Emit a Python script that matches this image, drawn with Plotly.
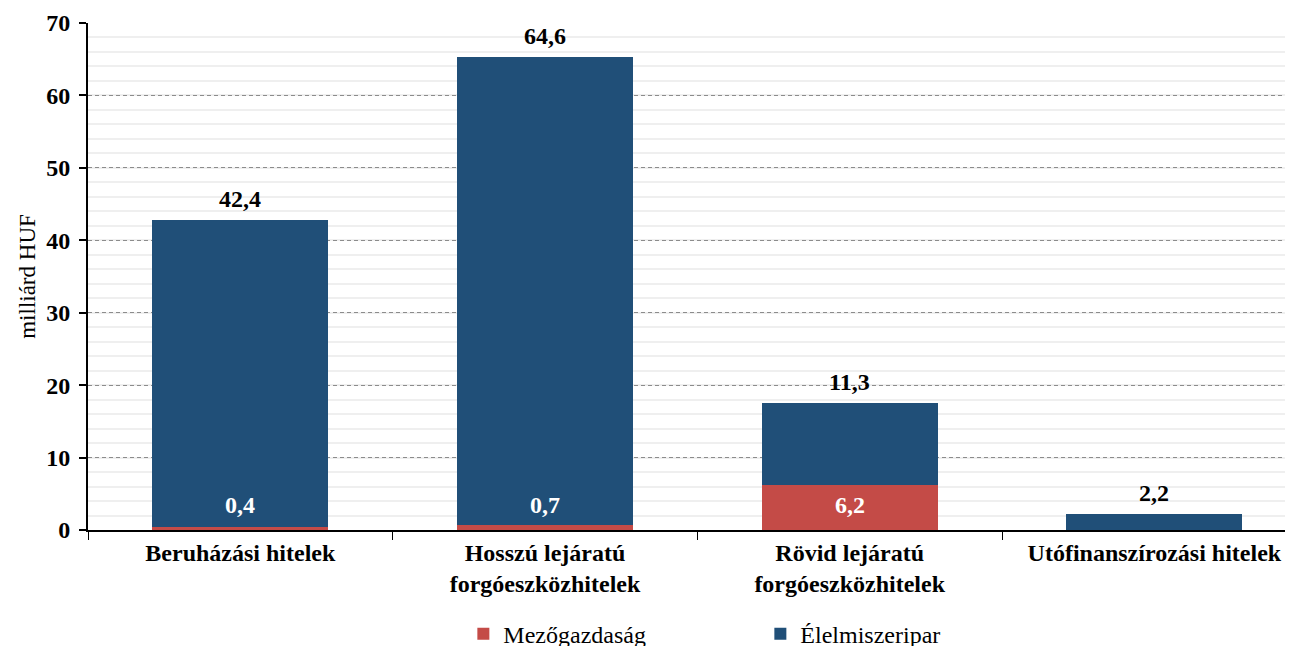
import plotly.graph_objects as go

categories = ["Beruházási hitelek", "Hosszú lejáratú<br>forgóeszközhitelek",
              "Rövid lejáratú<br>forgóeszközhitelek", "Utófinanszírozási hitelek"]
mezogazdasag = [0.4, 0.7, 6.2, 0.0]
elelmiszeripar = [42.4, 64.6, 11.3, 2.2]
y_ticks = [0, 10, 20, 30, 40, 50, 60, 70]

RED = "#C44B47"
BLUE = "#204F78"
FONT = "Liberation Serif"

def fmt(v):
    return f"{v:.1f}".replace(".", ",")

fig = go.Figure()
fig.add_trace(go.Bar(
    x=categories, y=mezogazdasag, name="Mezőgazdaság",
    marker=dict(color=RED, line=dict(width=0)),
))
fig.add_trace(go.Bar(
    x=categories, y=elelmiszeripar, name="Élelmiszeripar",
    marker=dict(color=BLUE, line=dict(width=0)),
))

# totals above stacks (value of Élelmiszeripar)
for c, m, e in zip(categories, mezogazdasag, elelmiszeripar):
    fig.add_annotation(
        x=c, y=m + e, text=fmt(e), showarrow=False,
        yanchor="bottom", yshift=6,
        font=dict(family=FONT, size=24, color="black", weight="bold"),
    )
# white labels for the agricultural part
for c, v in zip(categories, mezogazdasag):
    if v > 0:
        fig.add_annotation(
            x=c, y=max(v / 2, 3.45), text=fmt(v),
            showarrow=False, yanchor="middle",
            font=dict(family=FONT, size=24, color="white", weight="bold"),
        )

fig.update_layout(
    barmode="stack", bargap=0.422,
    width=1285, height=646,
    margin=dict(l=80, r=0, t=15, b=124, autoexpand=False),
    plot_bgcolor="white", paper_bgcolor="white",
    separators=",.",
    font=dict(family=FONT, color="black"),
    showlegend=True,
    legend=dict(orientation="h", x=0.3115, xanchor="left", y=-0.161, yanchor="top",
                font=dict(family=FONT, size=24), traceorder="normal",
                itemwidth=30, entrywidth=252),
)
fig.update_yaxes(
    range=[0, 70], tickvals=y_ticks, automargin=False,
    tickfont=dict(family=FONT, size=24, weight="bold"),
    showline=True, linecolor="black", linewidth=2,
    ticks="outside", ticklen=7, tickcolor="black", tickwidth=2,
    ticklabelstandoff=4,
    showgrid=True, gridcolor="#8C8C8C", griddash="4px,3px", gridwidth=1,
    minor=dict(dtick=2, showgrid=True, gridcolor="#EFEFEF", gridwidth=2,
               griddash="solid", ticks=""),
    zeroline=False,
    title=dict(text="milliárd HUF", font=dict(family=FONT, size=23), standoff=4),
)
fig.update_xaxes(
    automargin=False, range=[-0.5, 3.455],
    tickfont=dict(family=FONT, size=24, weight="bold"),
    showline=True, linecolor="black", linewidth=2,
    ticks="outside", tickson="boundaries", ticklen=8, tickcolor="black", tickwidth=1,
    showgrid=False,
)

fig.write_html("out.html")
